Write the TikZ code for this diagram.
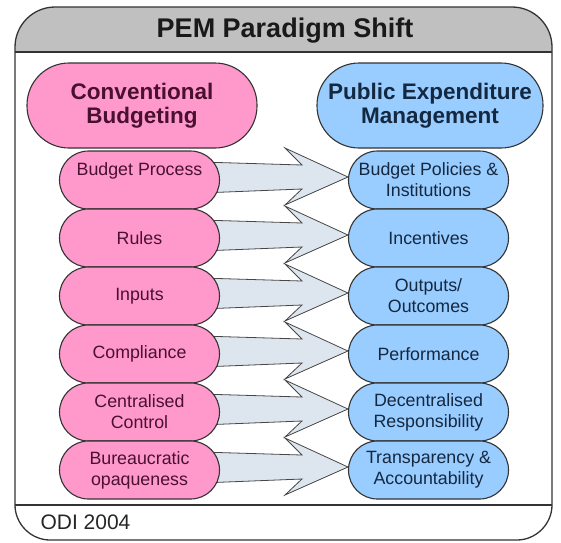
\documentclass[tikz,border=0pt]{standalone}
\usepackage{fontspec}
\setmainfont{Liberation Sans}
\usetikzlibrary{calc}
\pgfdeclarelayer{bg}
\pgfdeclarelayer{arrows}
\pgfsetlayers{bg,arrows,main}

\definecolor{pinkfill}{HTML}{FF99CC}
\definecolor{bluefill}{HTML}{99CCFF}
\definecolor{arrfill}{HTML}{DDE5EF}
\definecolor{titlegray}{HTML}{C0C0C0}
\definecolor{linegray}{HTML}{333333}
\definecolor{pinktext}{HTML}{4A1030}
\definecolor{bluetext}{HTML}{142840}

\begin{document}
\begin{tikzpicture}[x=1pt,y=-1pt,
  rowbox/.style={draw=linegray, line width=1.1pt, rounded corners=28.9pt,
    minimum width=160pt, minimum height=58pt, inner sep=0pt, align=center,
    font=\fontsize{17.8}{21}\selectfont},
  pinkrow/.style={rowbox, fill=pinkfill, text=pinktext},
  bluerow/.style={rowbox, fill=bluefill, text=bluetext},
  headbox/.style={draw=linegray, line width=1.1pt, rounded corners=42pt,
    minimum height=85pt, inner sep=0pt, align=center,
    font=\bfseries\fontsize{22.5}{24.5}\selectfont},
  arr/.style={draw=linegray!90, line width=0.8pt, fill=arrfill, line join=miter},
  frame/.style={draw=linegray, line width=1.3pt}]
\useasboundingbox (0,0) rectangle (561,542);

% frame
\begin{pgfonlayer}{bg}
\fill[titlegray] (15,52) -- (15,47) .. controls (15,25) and (33,7) .. (55,7)
  -- (512,7) .. controls (534,7) and (552,25) .. (552,47) -- (552,52) -- cycle;
\draw[frame] (15,47) .. controls (15,25) and (33,7) .. (55,7)
  -- (512,7) .. controls (534,7) and (552,25) .. (552,47)
  -- (552,505) .. controls (552,524) and (536,540) .. (517,540)
  -- (50,540) .. controls (31,540) and (15,524) .. (15,505) -- cycle;
\draw[frame] (15,52) -- (552,52);
\draw[frame] (15,505) -- (552,505);
\end{pgfonlayer}

\node[font=\bfseries\fontsize{27}{30}\selectfont, text=black!90, anchor=base]
  (title) at (285,37.5) {PEM Paradigm Shift};
\node[font=\fontsize{21}{23}\selectfont, text=black!85, anchor=base west]
  (odi) at (37,529) {ODI 2004};

% headers
\node[headbox, fill=pinkfill, text=pinktext, minimum width=230pt] (ph) at (142,105.5) {Conventional\\Budgeting};
\node[headbox, fill=bluefill, text=bluetext, minimum width=226pt] (bh) at (430,105.5) {Public Expenditure\\Management};

% rows
\node[pinkrow] (p1) at (139.5,180) {Budget Process\\\mbox{}};
\node[pinkrow] (p2) at (139.5,238) {Rules};
\node[pinkrow] (p3) at (139.5,296) {Inputs};
\node[pinkrow] (p4) at (139.5,354) {Compliance};
\node[pinkrow] (p5) at (139.5,412) {Centralised\\Control};
\node[pinkrow] (p6) at (139.5,470) {Bureaucratic\\opaqueness};

\node[bluerow] (b1) at (428.5,180) {Budget Policies \&\\Institutions};
\node[bluerow] (b2) at (428.5,238) {Incentives};
\node[bluerow] (b3) at (428.5,296) {Outputs/\\Outcomes};
\node[bluerow] (b4) at (428.5,354) {Performance};
\node[bluerow] (b5) at (428.5,412) {Decentralised\\Responsibility};
\node[bluerow] (b6) at (428.5,470) {Transparency \&\\Accountability};

% arrows
\begin{pgfonlayer}{arrows}
\foreach \i in {1,...,6}{
  \coordinate (t\i) at ([yshift=3pt]b\i.west);
  \coordinate (s\i) at ([yshift=3pt]p\i.east);
  \draw[arr] ([shift={(-19pt,15pt)}]s\i) -- ([shift={(-46pt,12pt)}]t\i)
    -- ([shift={(-63pt,29pt)}]t\i) -- (t\i) -- ([shift={(-63pt,-28pt)}]t\i)
    -- ([shift={(-46pt,-12pt)}]t\i) -- ([shift={(-19pt,-16pt)}]s\i) -- cycle;
}
\end{pgfonlayer}
\end{tikzpicture}
\end{document}
